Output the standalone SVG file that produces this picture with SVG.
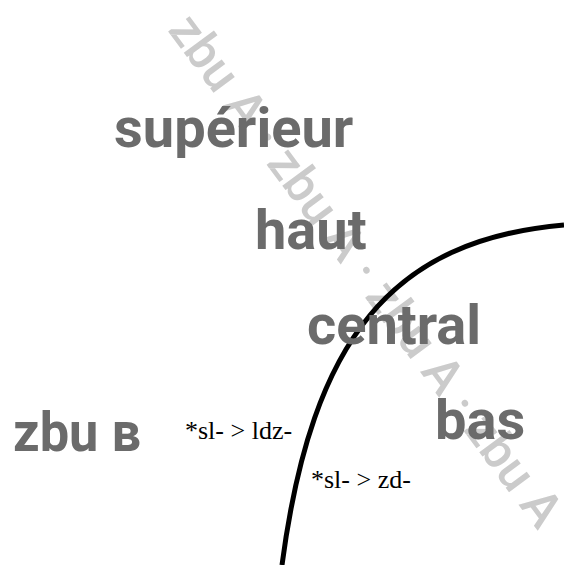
<svg xmlns="http://www.w3.org/2000/svg" width="564" height="565" viewBox="0 0 564 565">
<style>
.lbl{font-family:Roboto,"Liberation Sans",sans-serif;font-weight:700;font-size:56px;fill:#6b6b6b}
.wm{font-family:Roboto,"Liberation Sans",sans-serif;font-weight:500;font-size:50px;fill:#cbcbcb}
.ser{font-family:"Liberation Serif","Times New Roman",serif;font-size:26px;fill:#000}
.arc{fill:none;stroke:#000;stroke-width:5}
</style>
<rect width="564" height="565" fill="#fff"/>
<g id="watermark">
<text class="wm" transform="translate(167,30) rotate(53.5)">zbu A · zbu A · zbu A · zbu A</text>
</g>
<g id="connectors">
<path class="arc" d="M282 565 C312 338 392 240 564 225"/>
</g>
<g id="n-superieur"><text class="lbl" x="114" y="147">supérieur</text></g>
<g id="n-haut"><text class="lbl" x="255" y="249">haut</text></g>
<g id="n-central"><text class="lbl" x="307" y="344">central</text></g>
<g id="n-bas"><text class="lbl" x="435" y="439">bas</text></g>
<g id="n-zbuB"><text class="lbl" x="13" y="451" textLength="128" lengthAdjust="spacingAndGlyphs">zbu в</text></g>
<g id="l1"><text class="ser" x="185" y="439">*sl- &gt; ldz-</text></g>
<g id="l2"><text class="ser" x="311" y="488">*sl- &gt; zd-</text></g>
</svg>
